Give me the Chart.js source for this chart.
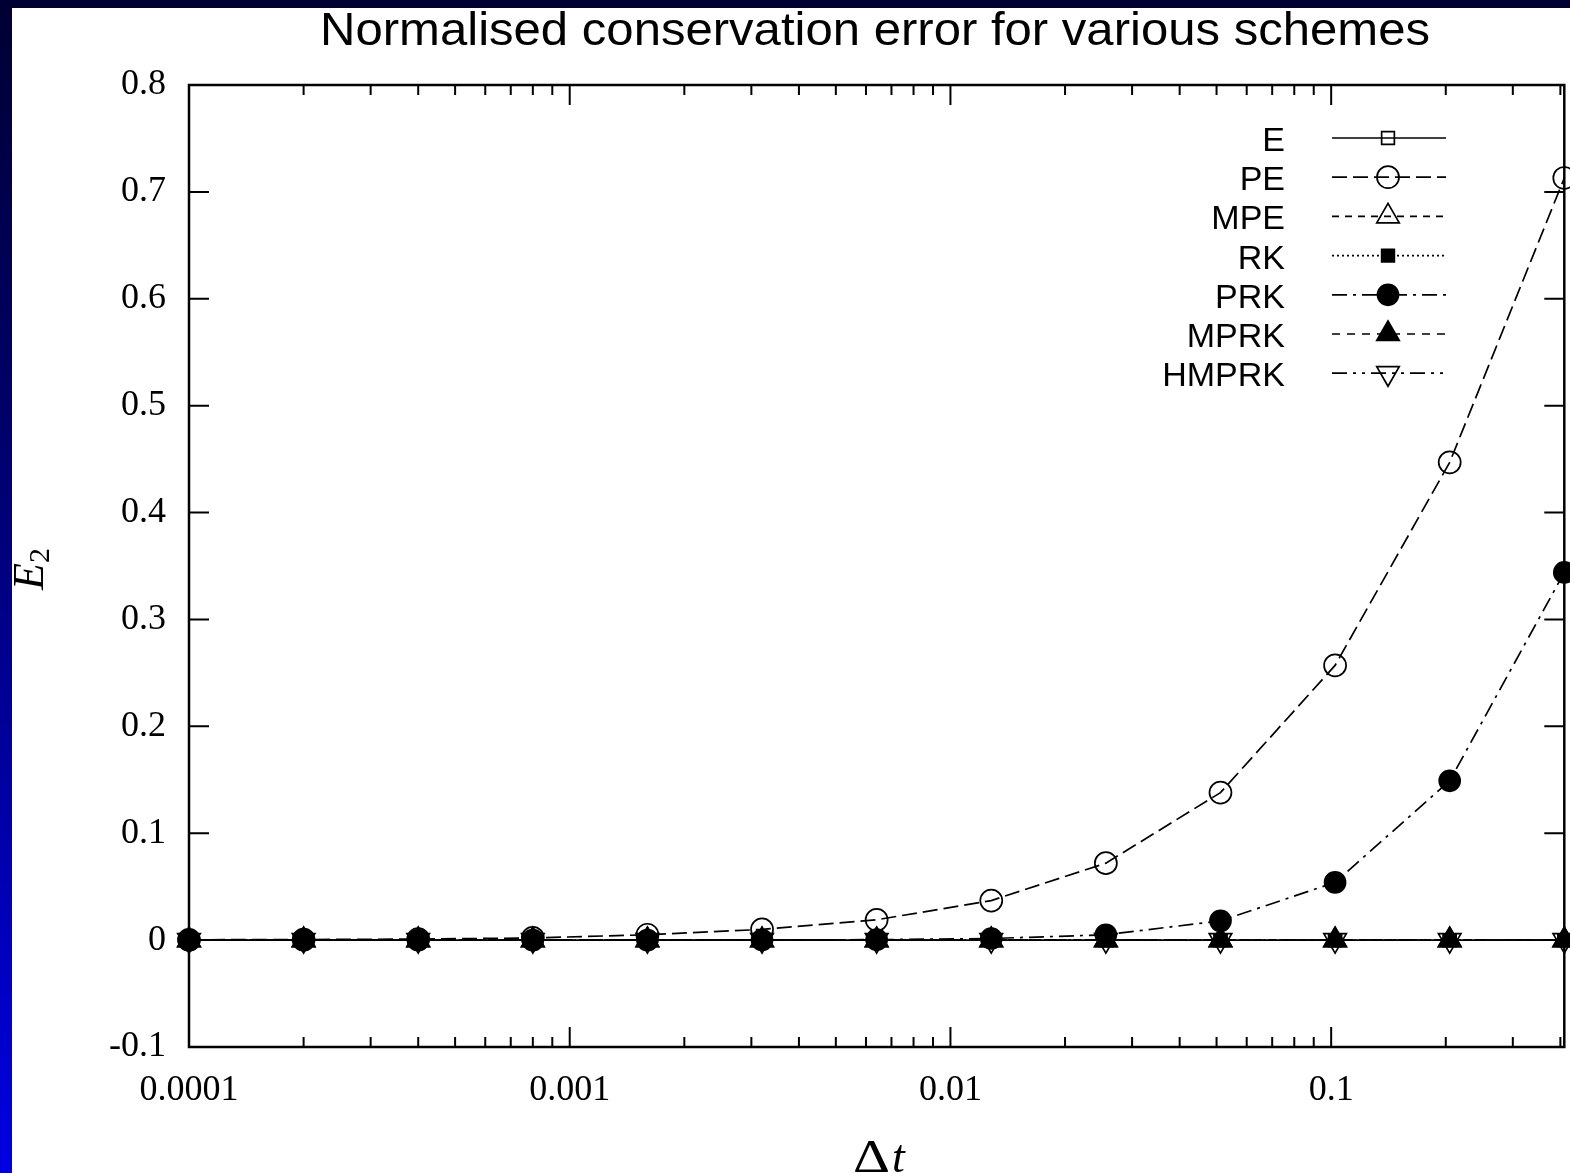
<!DOCTYPE html>
<html lang="en">
<head>
<meta charset="UTF-8">
<title>Normalised conservation error for various schemes</title>
<script src="https://cdn.jsdelivr.net/npm/chart.js@4.4.1/dist/chart.umd.min.js"></script>
<style>
    html, body { margin: 0; padding: 0; }
    body {
        width: 1570px;
        height: 1173px;
        overflow: hidden;
        background: linear-gradient(to bottom, #000033 0%, #000070 40%, #0000e2 100%);
    }
    #panel {
        position: absolute;
        left: 12px;
        top: 8px;
        width: 1558px;
        height: 1165px;
        overflow: hidden;
        background: #ffffff;
    }
</style>
</head>
<body>
<!-- canvas runs a little past the panel: chart.js keeps a margin right of the x axis -->
<div id="panel"><canvas id="errChart" width="1567" height="1165"></canvas></div>
<script>
// time steps, doubling from 1e-4
var dt = [0.0001, 0.0002, 0.0004, 0.0008, 0.0016, 0.0032, 0.0064, 0.0128, 0.0256, 0.0512, 0.1024, 0.2048, 0.4096];

// normalised conservation error E2 per scheme
var errE     = [0, 0, 0, 0, 0, 0, 0, 0, 0, 0, 0, 0, 0];
var errPE    = [0.0003, 0.0005, 0.001, 0.002, 0.005, 0.010, 0.019, 0.037, 0.072, 0.138, 0.257, 0.447, 0.713];
var errMPE   = [0, 0, 0, 0, 0, 0, 0, 0, 0, 0, 0, 0, 0];
var errRK    = [0, 0, 0, 0, 0, 0, 0, 0, 0, 0, 0, 0, 0];
var errPRK   = [0, 0, 0, 0, 0, 0.0001, 0.0004, 0.0015, 0.005, 0.018, 0.054, 0.149, 0.344];
var errMPRK  = [0, 0, 0, 0, 0, 0, 0, 0, 0, 0, 0, 0, 0];
var errHMPRK = [0, 0, 0, 0, 0, 0, 0, 0, 0, 0, 0, 0, 0];

var schemeNames = ['E', 'PE', 'MPE', 'RK', 'PRK', 'MPRK', 'HMPRK'];
var schemeErrors = [errE, errPE, errMPE, errRK, errPRK, errMPRK, errHMPRK];

// axis ticks
var xMajorTicks = [0.0001, 0.001, 0.01, 0.1];
var xTickLabels = ['0.0001', '0.001', '0.01', '0.1'];
var yMin = -0.1, yMax = 0.8, yStep = 0.1;

// gnuplot-like line and point types
var styles = [
    { dash: [],              point: 'rect',     radius: 9,  rot: 0,   filled: false },
    { dash: [15, 6],         point: 'circle',   radius: 11, rot: 0,   filled: false },
    { dash: [7, 6],          point: 'triangle', radius: 13, rot: 0,   filled: false },
    { dash: [2, 3],          point: 'rect',     radius: 9,  rot: 0,   filled: true  },
    { dash: [15, 6, 3, 6],   point: 'circle',   radius: 10.5, rot: 0, filled: true  },
    { dash: [8, 7],          point: 'triangle', radius: 13, rot: 0,   filled: true  },
    { dash: [15, 6, 3, 6, 3, 6], point: 'triangle', radius: 13, rot: 180, filled: false }
];

var datasets = schemeNames.map(function (name, i) {
    var s = styles[i];
    return {
        label: name,
        data: dt.map(function (t, k) { return { x: t, y: schemeErrors[i][k] }; }),
        borderColor: '#000',
        borderWidth: 1.7,
        borderDash: s.dash,
        pointStyle: s.point,
        pointRadius: s.radius,
        pointRotation: s.rot,
        pointBorderWidth: 1.7,
        pointBorderColor: '#000',
        pointBackgroundColor: s.filled ? '#000' : 'rgba(0,0,0,0)',
        tension: 0,
        clip: false
    };
});

function isXMajor(v) {
    return xMajorTicks.findIndex(function (m) { return Math.abs(v - m) / m < 1e-6; });
}

// border box, inward ticks, titles and key
var decorations = {
    id: 'decorations',
    beforeDatasetsDraw: function (chart) {
        var ctx = chart.ctx, a = chart.chartArea;
        var xs = chart.scales.x, ys = chart.scales.y;
        ctx.save();
        ctx.strokeStyle = '#000';
        ctx.lineWidth = 2;
        ctx.beginPath();
        xs.ticks.forEach(function (t) {
            var v = t.value;
            var e = Math.floor(Math.log10(v) + 1e-9);
            var m = v / Math.pow(10, e);
            var r = Math.round(m);
            if (Math.abs(m - r) > 1e-6) return;
            var len = (r === 1 || r === 10) ? 20 : 10;
            var px = xs.getPixelForValue(v);
            ctx.moveTo(px, a.bottom); ctx.lineTo(px, a.bottom - len);
            ctx.moveTo(px, a.top);    ctx.lineTo(px, a.top + len);
        });
        ys.ticks.forEach(function (t) {
            var py = ys.getPixelForValue(t.value);
            ctx.moveTo(a.left, py);  ctx.lineTo(a.left + 20, py);
            ctx.moveTo(a.right, py); ctx.lineTo(a.right - 20, py);
        });
        ctx.stroke();
        ctx.lineWidth = 2.5;
        ctx.strokeRect(a.left, a.top, a.right - a.left, a.bottom - a.top);
        ctx.restore();
    },
    afterDatasetsDraw: function (chart) {
        var ctx = chart.ctx, a = chart.chartArea;
        ctx.save();
        ctx.fillStyle = '#000';

        // title, stretched a little to the gnuplot width
        var title = 'Normalised conservation error for various schemes';
        ctx.font = '46px "Liberation Sans", Arial, sans-serif';
        ctx.textAlign = 'center';
        ctx.textBaseline = 'alphabetic';
        var tw = ctx.measureText(title).width;
        ctx.save();
        ctx.translate(863, 37);
        ctx.scale(1110 / tw, 1);
        ctx.fillText(title, 0, 0);
        ctx.restore();

        // x axis title: Δt
        var cx = 866;
        ctx.font = '46px "Liberation Serif", "Times New Roman", serif';
        var wD = ctx.measureText('\u0394').width;
        ctx.font = 'italic 46px "Liberation Serif", "Times New Roman", serif';
        var wT = ctx.measureText('t').width;
        var x0 = cx - (wD * 1.25 + wT) / 2;
        ctx.textAlign = 'left';
        ctx.font = '46px "Liberation Serif", "Times New Roman", serif';
        ctx.save();
        ctx.translate(x0, 1164);
        ctx.scale(1.25, 1);
        ctx.fillText('\u0394', 0, 0);
        ctx.restore();
        ctx.font = 'italic 46px "Liberation Serif", "Times New Roman", serif';
        ctx.fillText('t', x0 + wD * 1.25 + 2, 1164);

        // y axis title: E_2
        ctx.save();
        ctx.translate(31, 561);
        ctx.rotate(-Math.PI / 2);
        ctx.font = 'italic 44px "Liberation Serif", "Times New Roman", serif';
        var wE = ctx.measureText('E').width;
        ctx.font = '30px "Liberation Serif", "Times New Roman", serif';
        var w2 = ctx.measureText('2').width;
        var sx = -(wE + w2) / 2;
        ctx.font = 'italic 44px "Liberation Serif", "Times New Roman", serif';
        ctx.fillText('E', sx, 0);
        ctx.font = '30px "Liberation Serif", "Times New Roman", serif';
        ctx.fillText('2', sx + wE, 6);
        ctx.restore();

        // key
        var textRight = 1273, lineL = 1320, lineR = 1434, mark = 1376;
        ctx.font = '34px "Liberation Sans", Arial, sans-serif';
        chart.data.datasets.forEach(function (ds, i) {
            var yRow = a.top + 53 + i * 39.2;
            ctx.textAlign = 'right';
            ctx.fillStyle = '#000';
            ctx.fillText(ds.label, textRight, yRow + 13);
            ctx.strokeStyle = '#000';
            ctx.lineWidth = ds.borderWidth;
            ctx.setLineDash(ds.borderDash);
            ctx.beginPath();
            ctx.moveTo(lineL, yRow);
            ctx.lineTo(lineR, yRow);
            ctx.stroke();
            ctx.setLineDash([]);
            ctx.fillStyle = ds.pointBackgroundColor;
            ctx.lineWidth = ds.pointBorderWidth;
            Chart.helpers.drawPoint(ctx, {
                pointStyle: ds.pointStyle,
                radius: ds.pointRadius,
                rotation: ds.pointRotation,
                borderWidth: ds.pointBorderWidth
            }, mark, yRow);
        });
        ctx.restore();
    }
};

var chart = new Chart(document.getElementById('errChart'), {
    type: 'line',
    data: { datasets: datasets },
    options: {
        responsive: false,
        animation: false,
        layout: { padding: { top: 77, right: 0, left: 0, bottom: 0 } },
        plugins: {
            legend: { display: false },
            tooltip: { enabled: false },
            title: { display: false }
        },
        scales: {
            x: {
                type: 'logarithmic',
                min: dt[0],
                max: dt[dt.length - 1],
                grid: { display: false, drawTicks: false },
                border: { display: false },
                afterFit: function (scale) {
                    scale.height = 126;
                    scale.paddingLeft = 0;
                    scale.paddingRight = 0;
                },
                ticks: {
                    autoSkip: false,
                    maxRotation: 0,
                    padding: 22,
                    color: '#000',
                    font: { family: '"Liberation Serif", "Times New Roman", serif', size: 36 },
                    callback: function (value) {
                        var k = isXMajor(value);
                        return k >= 0 ? xTickLabels[k] : '';
                    }
                }
            },
            y: {
                type: 'linear',
                min: yMin,
                max: yMax,
                grid: { display: false, drawTicks: false },
                border: { display: false },
                afterFit: function (scale) { scale.width = 177; },
                ticks: {
                    stepSize: yStep,
                    padding: 23,
                    color: '#000',
                    font: { family: '"Liberation Serif", "Times New Roman", serif', size: 36 },
                    callback: function (value) {
                        return String(Math.round(value * 10) / 10);
                    }
                }
            }
        }
    },
    plugins: [decorations]
});
</script>
</body>
</html>
